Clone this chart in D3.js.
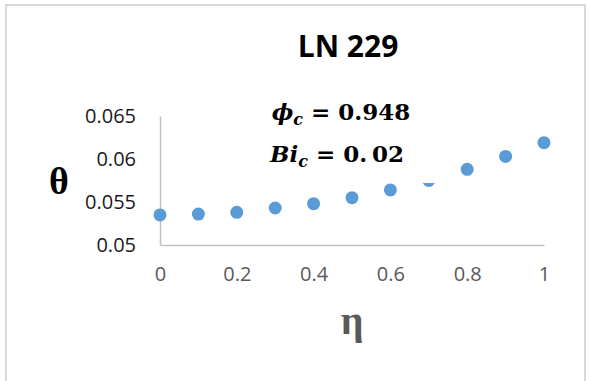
<!DOCTYPE html>
<meta charset="utf-8">
<script src="https://d3js.org/d3.v7.min.js"></script>
<style>
  body { margin: 0; background: #fff; }
</style>
<div id="my_dataviz"></div>
<script>
    // data
    var etaValues = [0, 0.1, 0.2, 0.3, 0.4, 0.5, 0.6, 0.7, 0.8, 0.9, 1];
    var thetaValues = [0.0535, 0.0536, 0.0538, 0.0543, 0.0548, 0.0555, 0.0564, 0.0575, 0.0588, 0.0603, 0.0619];
    var xTicks = [0, 0.2, 0.4, 0.6, 0.8, 1];
    var yTicks = [0.05, 0.055, 0.06, 0.065];

    var W = 590, H = 381;

    var svg = d3.select("#my_dataviz")
      .append("svg")
        .attr("width", W)
        .attr("height", H);

    // chart frame
    svg.append("rect")
        .attr("x", 6).attr("y", 5)
        .attr("width", 579).attr("height", 390)
        .attr("fill", "none")
        .attr("stroke", "#d9d9d9")
        .attr("stroke-width", 2);

    var x = d3.scaleLinear().domain([0, 1]).range([160, 544]);
    var y = d3.scaleLinear().domain([0.05, 0.065]).range([245, 116]);

    // x axis
    var gx = svg.append("g")
        .attr("transform", "translate(0," + y(0.05) + ")")
        .call(d3.axisBottom(x).tickValues(xTicks).tickSize(0).tickPadding(22)
              .tickFormat(d3.format("~g")));
    gx.select(".domain").attr("stroke", "#bfbfbf").attr("stroke-width", 1.5);
    gx.selectAll("text")
        .attr("fill", "#595959")
        .style("font-family", "Open Sans")
        .style("font-size", "20px");

    // y axis
    var gy = svg.append("g")
        .attr("transform", "translate(" + x(0) + ",0)")
        .call(d3.axisLeft(y).tickValues(yTicks).tickSize(0).tickPadding(24)
              .tickFormat(d3.format("~g")));
    gy.select(".domain").attr("stroke", "#bfbfbf").attr("stroke-width", 1.5);
    gy.selectAll("text")
        .attr("fill", "#1a1a1a")
        .style("font-family", "Open Sans")
        .style("font-size", "20px");

    // points
    svg.selectAll("circle.pt")
      .data(etaValues)
      .enter()
      .append("circle")
        .attr("class", "pt")
        .attr("cx", function(d) { return x(d); })
        .attr("cy", function(d, i) { return y(thetaValues[i]); })
        .attr("r", 6.5)
        .attr("fill", "#5b9bd5");

    // title
    svg.append("text")
        .attr("x", 348).attr("y", 57)
        .attr("text-anchor", "middle")
        .style("font-family", "Open Sans")
        .style("font-weight", "bold")
        .style("font-size", "30px")
        .attr("fill", "#000")
        .text("LN 229");

    // text box (covers part of a point, like in the original)
    svg.append("rect")
        .attr("x", 262).attr("y", 92)
        .attr("width", 178).attr("height", 91)
        .attr("fill", "#fff");

    var t1 = svg.append("text")
        .attr("x", 341).attr("y", 120)
        .attr("text-anchor", "middle")
        .style("font-family", "DejaVu Serif")
        .style("font-weight", "bold")
        .style("font-size", "23px")
        .attr("fill", "#000");
    t1.append("tspan").style("font-style", "italic").text("\u03d5");
    t1.append("tspan").style("font-style", "italic").style("font-size", "16px").attr("dy", 5).text("c");
    t1.append("tspan").attr("dy", -5).text(" = 0.948");

    var t2 = svg.append("text")
        .attr("x", 337).attr("y", 162)
        .attr("text-anchor", "middle")
        .style("font-family", "DejaVu Serif")
        .style("font-weight", "bold")
        .style("font-size", "23px")
        .attr("fill", "#000");
    t2.append("tspan").style("font-style", "italic").text("Bi");
    t2.append("tspan").style("font-style", "italic").style("font-size", "16px").attr("dy", 5).text("c");
    t2.append("tspan").attr("dy", -5).text(" = 0.\u200902");

    // axis titles
    svg.append("text")
        .attr("x", 59).attr("y", 194)
        .attr("text-anchor", "middle")
        .style("font-family", "Liberation Serif")
        .style("font-weight", "bold")
        .style("font-size", "38px")
        .attr("fill", "#000")
        .text("\u03b8");

    svg.append("text")
        .attr("x", 352).attr("y", 334)
        .attr("text-anchor", "middle")
        .style("font-family", "Liberation Serif")
        .style("font-weight", "bold")
        .style("font-size", "40px")
        .attr("fill", "#595959")
        .text("\u03b7");
</script>
